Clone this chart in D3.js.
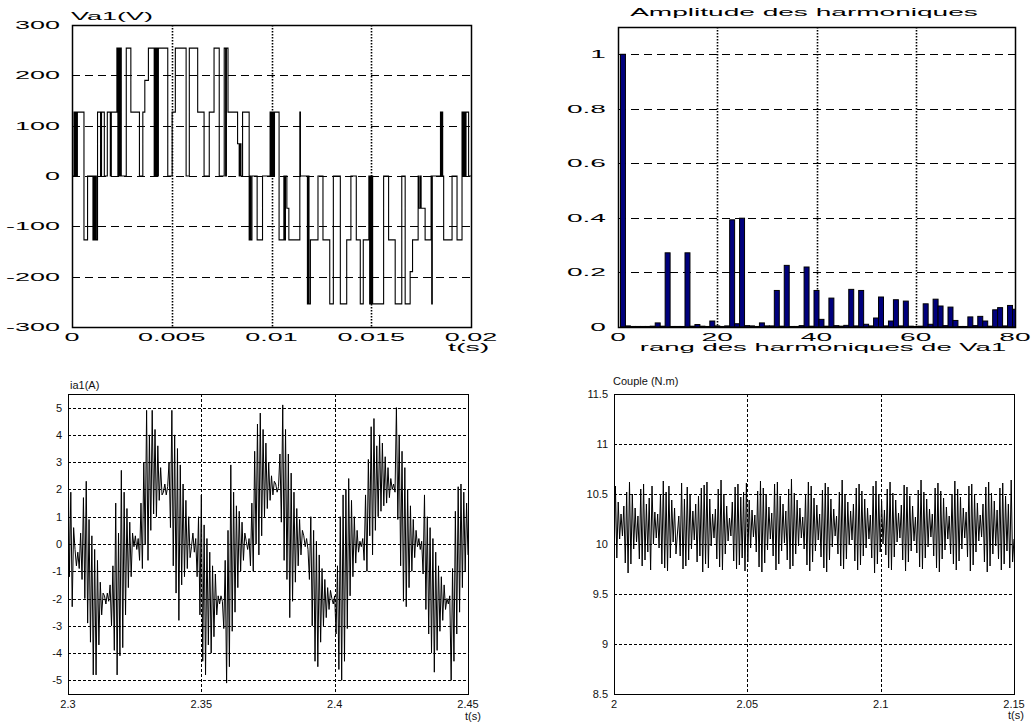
<!DOCTYPE html>
<html>
<head>
<meta charset="utf-8">
<script src="https://cdn.jsdelivr.net/npm/d3@7"></script>
<style>
  body { margin: 0; background: #fff; }
  svg { display: block; }
</style>
</head>
<body>
<svg id="fig" width="1031" height="725"></svg>
<script>
// ---------- Phase voltage Va1 (multilevel PWM), switching instants in ms and held level in V ----------
const vaSwitchMs = [
  0.00, 0.10, 0.15, 0.19, 0.24, 0.27, 0.60, 0.78, 1.05, 1.10, 1.14, 1.19, 1.22, 1.28, 1.43, 1.48, 1.62, 1.77, 1.92, 1.97,
  2.25, 2.30, 2.34, 2.39, 2.43, 2.47, 2.72, 2.95, 3.38, 3.55, 3.65, 3.83, 4.12, 4.16, 4.21, 4.25, 4.30, 4.33, 4.80, 5.02,
  5.18, 5.72, 5.88, 6.30, 6.62, 6.88, 7.12, 7.38, 7.63, 7.70, 7.74, 7.82, 8.30, 8.38, 8.42, 8.47, 8.55, 8.88, 8.92, 8.96,
  9.02, 9.28, 9.55, 9.93, 9.97, 10.00, 10.04, 10.08, 10.12, 10.15, 10.38, 10.62, 10.66, 10.70, 10.77, 10.87, 11.42, 11.45, 11.80, 11.84,
  11.88, 11.95, 12.33, 12.58, 12.92, 13.10, 13.45, 13.77, 13.98, 14.25, 14.45, 14.60, 14.88, 14.92, 14.95, 14.99, 15.03, 15.07, 15.62, 15.87,
  16.20, 16.53, 16.70, 16.95, 17.07, 17.35, 17.38, 17.45, 17.50, 17.70, 18.00, 18.03, 18.06, 18.47, 18.50, 18.54, 18.58, 18.63, 19.05, 19.30,
  19.55, 19.60, 19.65, 19.70, 19.75, 19.88
];
const vaLevels = [
  0, 127, 0, 127, 0, 127, -127, 0, -127, 0, -127, 0, -127, 127, 0, 127, 0, 127, 0, 127,
  254, 0, 254, 0, 254, 0, 254, 127, 0, 127, 190, 254, 0, 254, 0, 254, 0, 254, 0, 127,
  254, 0, 254, 127, 0, 127, 254, 0, 254, 0, 254, 127, 64, 0, 64, 0, 127, -127, 0, -127,
  0, -127, 0, 127, 0, 127, 0, 127, 0, 127, -127, 0, -127, 0, -64, -127, 127, 0, -254, 0,
  -254, -127, 0, -127, -254, 0, -254, -127, 0, -127, -254, -127, 0, -254, 0, -254, 0, -254, 0, -127,
  -254, 0, -254, -190, -127, 0, -64, 0, -64, -127, 0, -254, 0, 127, 0, 127, 0, -127, 0, -127,
  127, 0, 127, 0, 127, 0
];
const vaXTicks = [0, 0.005, 0.01, 0.015, 0.02];
const vaYTicks = [-300, -200, -100, 0, 100, 200, 300];

// ---------- Harmonic spectrum of Va1 (ranks 1..80, amplitude relative to fundamental) ----------
const harmRanks = d3.range(1, 81);
const harmAmplitudes = [
  1.000, 0.004, 0.002, 0.002, 0.002, 0.002, 0.003, 0.015, 0.003, 0.272,
  0.002, 0.002, 0.002, 0.272, 0.003, 0.009, 0.003, 0.002, 0.022, 0.004,
  0.002, 0.004, 0.393, 0.012, 0.399, 0.005, 0.004, 0.002, 0.015, 0.004,
  0.004, 0.134, 0.003, 0.226, 0.002, 0.002, 0.005, 0.220, 0.003, 0.134,
  0.028, 0.003, 0.106, 0.005, 0.003, 0.006, 0.138, 0.004, 0.134, 0.010,
  0.004, 0.033, 0.110, 0.004, 0.022, 0.100, 0.004, 0.095, 0.003, 0.002,
  0.003, 0.085, 0.010, 0.102, 0.077, 0.005, 0.073, 0.024, 0.002, 0.002,
  0.037, 0.005, 0.039, 0.022, 0.003, 0.063, 0.071, 0.004, 0.079, 0.065
];
const harmXTicks = [0, 20, 40, 60, 80];
const harmYTicks = [0, 0.2, 0.4, 0.6, 0.8, 1];
const harmYLabels = ["0", "0.2", "0.4", "0.6", "0.8", "1"];

// ---------- Phase current ia1, sampled uniformly over [2.3 s, 2.45 s] ----------
const currentSpan = [2.3, 2.45];
const currentVals = [
  3.7, -1.2, 1.9, -2.3, 0.6,
  -0.2, -0.8,
  -0.3, -0.9, 0.4, -1.3, 1.7, -2.0, 2.3, -2.9, 0.9, -3.6, 0.3, -4.8, -0.2, -4.8, -0.6, -3.7, -1.4, -2.6, -1.8,
  -1.9, -2.2, -1.8, -2.1,
  -1.5, -3.0, -0.8, -3.9, 1.5, -4.8, 0.4, -4.1, 2.7, -3.8, 1.9, -2.6, 1.3, -1.6, 0.8, -1.2, 0.4,
  -0.1, 0.3, -0.2, 0.2,
  -0.6, 1.5, -0.9, 3.0, 0.0, 4.9, -0.6, 4.0, 0.5, 4.9, 1.1, 4.2, 1.0, 3.6, 1.6, 2.8, 1.8,
  1.9, 2.2, 1.8, 2.1,
  3.0, 0.6, 4.9, -0.8, 4.0, -1.8, 3.5, -2.8, 2.9, -1.5, 2.2, -1.2, 1.6, -0.9, 1.0, -0.5,
  -0.1, 0.4, -0.3, 0.2,
  -1.2, 1.0, -2.6, 1.8, -4.3, 0.7, -4.8, 0.2, -3.7, -0.3, -4.0, -0.8, -3.4, -1.1, -2.6,
  -1.9, -2.2, -1.9, -2.1,
  -3.1, -0.6, -5.1, 0.5, -4.5, 2.9, -3.2, 1.9, -2.5, 1.4, -1.6, 1.2, -1.0, 0.8, -0.6, 0.4,
  0.1, -0.2, 0.2,
  -0.8, 1.5, -1.0, 3.4, 0.0, 4.4, -0.4, 4.8, 0.3, 4.2, 1.0, 3.7, 1.3, 3.0, 1.6, 2.5, 1.8, 2.3,
  2.2, 1.9, 2.1,
  3.3, 0.8, 5.1, -0.6, 4.2, -1.3, 3.3, -2.7, 2.6, -2.1, 1.9, -1.4, 1.3, -0.8, 0.9, -0.4, 0.5,
  0.3, -0.1, 0.2, -0.2,
  -1.3, 1.0, -3.0, 0.5, -4.3, 0.1, -4.5, -0.4, -3.6, -0.9, -3.0, -1.3, -2.7, -1.6, -2.4, -1.7,
  -2.0, -2.2, -1.9,
  -3.3, -0.8, -4.6, 1.0, -5.0, 1.8, -4.3, 2.0, -3.1, 2.4, -1.9, 1.6, -1.2, 1.0, -0.7, 0.5, -0.3,
  0.1, -0.1, 0.2,
  -0.6, 1.8, -1.0, 3.1, 0.3, 4.3, -0.4, 4.6, 0.5, 3.6, 1.0, 4.0, 1.2, 3.7, 1.4, 3.2, 1.5, 2.8, 1.7, 2.4,
  2.0, 2.2, 1.9,
  5.0, 0.9, 4.0, -0.8, 3.4, -2.1, 2.8, -2.3, 2.0, -1.6, 1.4, -1.0, 0.9, -0.5, 0.5,
  -0.1, 0.2, -0.2, 0.1,
  -1.1, 1.8, -2.4, 1.0, -3.3, 0.6, -4.0, 0.2, -4.7, -0.3, -3.9, -0.8, -3.2, -1.2, -2.8, -1.5, -2.4,
  -2.0, -2.2, -1.9,
  -5.0, -0.9, -4.3, 1.2, -3.3, 2.1, -2.5, 2.2, -1.6, 1.9, -1.0, 1.5, -0.4
];
const currentXTicks = [2.3, 2.35, 2.4, 2.45];
const currentYTicks = [-5, -4, -3, -2, -1, 0, 1, 2, 3, 4, 5];

// ---------- Electromagnetic torque, sampled uniformly over [2 s, 2.15 s] ----------
const torqueSpan = [2.0, 2.15];
const torqueVals = [
  9.74, 10.58, 9.86, 10.42, 10.05, 10.30, 10.08, 10.38, 9.81, 10.52, 9.71, 10.62, 9.80, 10.50, 9.95,
  10.36, 10.02, 10.28, 9.85, 10.55, 9.78, 10.60, 9.84, 10.40, 9.92, 10.46, 9.74, 10.58, 10.00, 10.32,
  10.06, 10.30, 9.96, 10.50, 9.80, 10.63, 9.76, 10.52, 9.73, 10.58, 9.86, 10.44, 10.02, 10.36, 9.90,
  10.10, 10.28, 9.88, 10.61, 9.75, 10.45, 9.78, 10.57, 9.84, 10.50, 9.95, 10.33, 10.04, 10.40, 9.82,
  10.48, 9.88, 10.56, 9.72, 10.59, 9.80, 10.62, 9.76, 10.45, 9.98, 10.30, 10.06, 10.35, 9.85, 10.55,
  9.77, 10.64, 9.74, 10.50, 9.90, 10.38, 10.03, 10.26, 10.08, 10.42, 9.83, 10.57, 9.75, 10.60, 9.79,
  10.47, 9.86, 10.52, 9.73, 10.61, 9.82, 10.44, 9.96, 10.34, 10.07, 10.29, 9.92, 10.53, 9.77, 10.63,
  9.72, 10.56, 9.81, 10.49, 9.94, 10.37, 10.05, 10.31, 9.88, 10.60, 9.74, 10.62, 9.80, 10.48, 9.93,
  10.40, 10.01, 10.33, 9.84, 10.55, 9.75, 10.65, 9.78, 10.51, 9.90, 10.44, 9.98, 10.36, 10.06, 10.27,
  9.95, 10.50, 9.79, 10.62, 9.73, 10.58, 9.82, 10.46, 9.93, 10.39, 10.04, 10.30, 9.87, 10.54, 9.76,
  10.61, 9.72, 10.57, 9.84, 10.45, 9.97, 10.35, 10.08, 10.28, 9.90, 10.52, 9.78, 10.64, 9.75, 10.50,
  9.85, 10.42, 9.99, 10.33, 10.04, 10.40, 9.83, 10.56, 9.74, 10.60, 9.79, 10.53, 9.88, 10.45, 9.96,
  10.36, 10.05, 10.29, 9.86, 10.58, 9.71, 10.63, 9.80, 10.50, 9.92, 10.43, 10.00, 10.34, 9.89, 10.55,
  9.76, 10.62, 9.74, 10.51, 9.87, 10.44, 10.02, 10.31, 10.06, 10.39, 9.84, 10.59, 9.73, 10.57, 9.82,
  10.48, 9.93, 10.38, 10.03, 10.27, 9.91, 10.54, 9.77, 10.64, 9.75, 10.52, 9.86, 10.45, 9.97, 10.35,
  10.07, 10.30, 9.88, 10.56, 9.76, 10.61, 9.72, 10.53, 9.85, 10.46, 9.94, 10.37, 10.05, 10.28, 9.90,
  10.50, 9.80, 10.63, 9.74, 10.55, 9.83, 10.47, 9.95, 10.36, 10.06, 10.32, 9.87, 10.58, 9.73, 10.60,
  9.79, 10.49, 9.92, 10.41, 10.03, 10.29, 10.07, 10.40, 9.82, 10.57, 9.72, 10.62, 9.78, 10.51, 9.90,
  10.43, 9.98, 10.34, 9.85, 10.56, 9.74, 10.61, 9.80, 10.48, 9.93, 10.40, 9.76, 10.64, 9.82, 10.05
];
const torqueXTicks = [2, 2.05, 2.1, 2.15];
const torqueYTicks = [8.5, 9, 9.5, 10, 10.5, 11, 11.5];

// ---------- drawing ----------
const svg = d3.select("#fig");
const FONT = "'Liberation Sans', Arial, Helvetica, sans-serif";
let clipId = 0;

// Text drawn in the wide, horizontally stretched style of the upper plots
function wideText(g, str, x, y, anchor, factor) {
  const t = g.append("text")
    .attr("x", x).attr("y", y)
    .attr("font-family", FONT).attr("font-size", 11)
    .attr("fill", "#000")
    .text(str);
  const w = t.node().getComputedTextLength() * factor;
  const x0 = anchor === "end" ? x - w : anchor === "middle" ? x - w / 2 : x;
  t.attr("x", x0).attr("textLength", w).attr("lengthAdjust", "spacingAndGlyphs");
  return t;
}

function plainText(g, str, x, y, anchor) {
  return g.append("text")
    .attr("x", x).attr("y", y)
    .attr("text-anchor", anchor)
    .attr("font-family", FONT).attr("font-size", 11)
    .attr("fill", "#111")
    .text(str);
}

function addClip(box) {
  const id = "clip" + (clipId++);
  svg.append("clipPath").attr("id", id)
    .append("rect")
    .attr("x", box.l).attr("y", box.t)
    .attr("width", box.r - box.l).attr("height", box.b - box.t);
  return "url(#" + id + ")";
}

// Upper-row axes: dashed horizontal grid, dotted vertical grid, wide labels
function upperAxes(box, x, y, xTicks, yTicks, yLabels, factor) {
  const g = svg.append("g");
  g.append("g").selectAll("line")
    .data(yTicks.filter(v => v !== y.domain()[0] && v !== y.domain()[1]))
    .join("line")
    .attr("x1", box.l).attr("x2", box.r)
    .attr("y1", d => Math.round(y(d)) + 0.5).attr("y2", d => Math.round(y(d)) + 0.5)
    .attr("stroke", "#000").attr("stroke-width", 1)
    .attr("stroke-dasharray", "8,5");
  g.append("g").selectAll("line")
    .data(xTicks.filter(v => v !== x.domain()[0] && v !== x.domain()[1]))
    .join("line")
    .attr("x1", d => Math.round(x(d)) + 0.5).attr("x2", d => Math.round(x(d)) + 0.5)
    .attr("y1", box.t).attr("y2", box.b)
    .attr("stroke", "#000").attr("stroke-width", 1.6)
    .attr("stroke-dasharray", "1.4,1.6");
  yTicks.forEach((v, i) => wideText(g, yLabels[i], box.l - 12, y(v) + 4, "end", factor));
  xTicks.forEach(v => wideText(g, String(v), x(v), box.b + 14, "middle", factor));
  return g;
}

function upperFrame(box) {
  svg.append("rect")
    .attr("x", box.l + 0.5).attr("y", box.t + 0.5)
    .attr("width", box.r - box.l).attr("height", box.b - box.t)
    .attr("fill", "none").attr("stroke", "#000").attr("stroke-width", 1.5);
}

// Lower-row axes: fine dashed grid on both directions, regular labels
function lowerAxes(box, x, y, xTicks, yTicks) {
  const g = svg.append("g");
  g.append("g").selectAll("line")
    .data(yTicks.filter(v => v !== y.domain()[0] && v !== y.domain()[1]))
    .join("line")
    .attr("x1", box.l).attr("x2", box.r)
    .attr("y1", d => Math.round(y(d)) + 0.5).attr("y2", d => Math.round(y(d)) + 0.5)
    .attr("stroke", "#000").attr("stroke-width", 1)
    .attr("stroke-dasharray", "3,2");
  g.append("g").selectAll("line")
    .data(xTicks.filter(v => v !== x.domain()[0] && v !== x.domain()[1]))
    .join("line")
    .attr("x1", d => Math.round(x(d)) + 0.5).attr("x2", d => Math.round(x(d)) + 0.5)
    .attr("y1", box.t).attr("y2", box.b)
    .attr("stroke", "#000").attr("stroke-width", 1)
    .attr("stroke-dasharray", "3,2");
  yTicks.forEach(v => plainText(g, String(v), box.l - 6, y(v) + 4, "end"));
  xTicks.forEach(v => plainText(g, String(v), x(v), box.b + 14, "middle"));
  return g;
}

function lowerFrame(box) {
  svg.append("rect")
    .attr("x", box.l + 0.5).attr("y", box.t + 0.5)
    .attr("width", box.r - box.l).attr("height", box.b - box.t)
    .attr("fill", "none").attr("stroke", "#000").attr("stroke-width", 1);
}

// ---- Panel 1: Va1(V) ----
{
  const box = { l: 72, r: 471, t: 25, b: 327 };
  const x = d3.scaleLinear().domain([0, 0.02]).range([box.l, box.r]);
  const y = d3.scaleLinear().domain([-300, 300]).range([box.b, box.t]);
  upperAxes(box, x, y, vaXTicks, vaYTicks, vaYTicks.map(String), 2.45);
  const pts = vaSwitchMs.map((t, i) => [t / 1000, vaLevels[i]]);
  pts.push([0.02, vaLevels[vaLevels.length - 1]]);
  svg.append("path")
    .attr("clip-path", addClip(box))
    .attr("d", d3.line().x(d => x(d[0])).y(d => y(d[1])).curve(d3.curveStepAfter)(pts))
    .attr("fill", "none").attr("stroke", "#000").attr("stroke-width", 1.1);
  upperFrame(box);
  wideText(svg, "Va1(V)", 71, 20, "start", 2.45);
  wideText(svg, "t(s)", 448, 351, "start", 2.6);
}

// ---- Panel 2: harmonic amplitudes ----
{
  const box = { l: 618, r: 1015, t: 27, b: 327 };
  const x = d3.scaleLinear().domain([0, 80]).range([box.l, box.r]);
  const y = d3.scaleLinear().domain([0, 1.1]).range([box.b, box.t]);
  upperAxes(box, x, y, harmXTicks, harmYTicks, harmYLabels, 2.55);
  svg.append("g").attr("clip-path", addClip(box))
    .selectAll("rect")
    .data(harmRanks.map((k, i) => ({ k, a: harmAmplitudes[i] })))
    .join("rect")
    .attr("x", d => x(d.k - 0.5))
    .attr("width", d => x(d.k + 0.5) - x(d.k - 0.5))
    .attr("y", d => y(d.a))
    .attr("height", d => y(0) - y(d.a))
    .attr("fill", "#00007c").attr("stroke", "#000").attr("stroke-width", 1);
  upperFrame(box);
  wideText(svg, "Amplitude des harmoniques", 804, 16, "middle", 2.55);
  wideText(svg, "rang des harmoniques de Va1", 823, 351, "middle", 2.5);
}

// ---- Panel 3: ia1(A) ----
{
  const box = { l: 68, r: 468, t: 394, b: 694 };
  const x = d3.scaleLinear().domain(currentSpan).range([box.l, box.r]);
  const y = d3.scaleLinear().domain([-5.5, 5.5]).range([box.b, box.t]);
  lowerAxes(box, x, y, currentXTicks, currentYTicks);
  const n = currentVals.length;
  const tAt = i => currentSpan[0] + (currentSpan[1] - currentSpan[0]) * i / (n - 1);
  svg.append("path")
    .attr("clip-path", addClip(box))
    .attr("d", d3.line().x((d, i) => x(tAt(i))).y(d => y(d))(currentVals))
    .attr("fill", "none").attr("stroke", "#000").attr("stroke-width", 1);
  lowerFrame(box);
  plainText(svg, "ia1(A)", 70, 389, "start");
  plainText(svg, "t(s)", 465, 720, "start");
}

// ---- Panel 4: Couple (N.m) ----
{
  const box = { l: 614, r: 1014, t: 394, b: 694 };
  const x = d3.scaleLinear().domain(torqueSpan).range([box.l, box.r]);
  const y = d3.scaleLinear().domain([8.5, 11.5]).range([box.b, box.t]);
  lowerAxes(box, x, y, torqueXTicks, torqueYTicks);
  const n = torqueVals.length;
  const tAt = i => torqueSpan[0] + (torqueSpan[1] - torqueSpan[0]) * i / (n - 1);
  svg.append("path")
    .attr("clip-path", addClip(box))
    .attr("d", d3.line().x((d, i) => x(tAt(i))).y(d => y(d))(torqueVals))
    .attr("fill", "none").attr("stroke", "#000").attr("stroke-width", 1);
  lowerFrame(box);
  plainText(svg, "Couple (N.m)", 613, 385, "start");
  plainText(svg, "t(s)", 1008, 719, "start");
}
</script>
</body>
</html>
